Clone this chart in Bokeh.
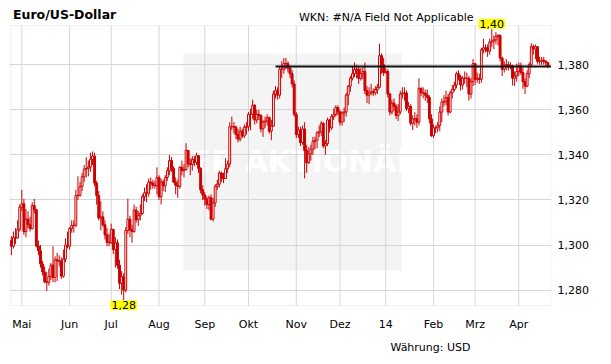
import pandas as pd
from bokeh.plotting import figure
from bokeh.models import ColumnDataSource, FixedTicker, Range1d, Label, BoxAnnotation
from bokeh.embed import file_html
from bokeh.resources import INLINE

# ---------------- data (EUR/USD daily) ----------------
start_date = "2013-04-24"
first_open = 1.3020

close = [
    1.2995, 1.3034, 1.3031, 1.3070, 1.3168,
    1.3183, 1.3060, 1.3115, 1.3090, 1.3073, 1.3175, 1.3157, 1.2996, 1.2975, 1.2916,
    1.2881, 1.2837, 1.2835, 1.2860, 1.2911, 1.2857, 1.2935, 1.2930, 1.2929, 1.2862,
    1.2938, 1.3000, 1.2995,
    1.3073, 1.3087, 1.3088, 1.3220, 1.3220, 1.3260, 1.3303, 1.3337, 1.3340, 1.3346,
    1.3380, 1.3395, 1.3275, 1.3220, 1.3120, 1.3125, 1.3090, 1.3045, 1.3012, 1.3010,
    1.3070, 1.2980, 1.3010, 1.2911, 1.2830, 1.2860, 1.2800, 1.3065, 1.3115, 1.3068,
    1.3060, 1.3155, 1.3112, 1.3132, 1.3140, 1.3215, 1.3232, 1.3230, 1.3280, 1.3275,
    1.3265, 1.3263, 1.3300,
    1.3215, 1.3280, 1.3263, 1.3300, 1.3330, 1.3375, 1.3340, 1.3280, 1.3265, 1.3260,
    1.3345, 1.3330, 1.3335, 1.3420, 1.3360, 1.3357, 1.3380, 1.3367, 1.3396, 1.3340,
    1.3245, 1.3222,
    1.3203, 1.3180, 1.3210, 1.3115, 1.3187, 1.3260, 1.3270, 1.3320, 1.3295, 1.3295,
    1.3339, 1.3360, 1.3525, 1.3526, 1.3523, 1.3490, 1.3470, 1.3505, 1.3484, 1.3522,
    1.3525,
    1.3580, 1.3580, 1.3620, 1.3555, 1.3580, 1.3575, 1.3515, 1.3545, 1.3550, 1.3565,
    1.3505, 1.3528, 1.3670, 1.3685, 1.3665, 1.3780, 1.3780, 1.3805, 1.3805, 1.3785,
    1.3760, 1.3715, 1.3580,
    1.3490, 1.3510, 1.3455, 1.3515, 1.3420, 1.3365, 1.3405, 1.3425, 1.3460, 1.3465,
    1.3498, 1.3502, 1.3540, 1.3440, 1.3450, 1.3555, 1.3520, 1.3570, 1.3580, 1.3610,
    1.3590,
    1.3545, 1.3585, 1.3590, 1.3665, 1.3705, 1.3740, 1.3760, 1.3780, 1.3780, 1.3740,
    1.3760, 1.3770, 1.3685, 1.3665, 1.3675, 1.3680, 1.3675, 1.3690, 1.3700, 1.3840,
    1.3800, 1.3765,
    1.3770, 1.3670, 1.3590, 1.3630, 1.3615, 1.3575, 1.3590, 1.3670, 1.3675, 1.3675,
    1.3605, 1.3615, 1.3540, 1.3560, 1.3560, 1.3545, 1.3695, 1.3675, 1.3675, 1.3665,
    1.3655, 1.3560, 1.3485,
    1.3520, 1.3520, 1.3530, 1.3590, 1.3635, 1.3635, 1.3655, 1.3590, 1.3675, 1.3690,
    1.3710, 1.3760, 1.3745, 1.3710, 1.3740, 1.3740, 1.3740, 1.3670, 1.3725, 1.3805,
    1.3735, 1.3740, 1.3735, 1.3865, 1.3875, 1.3875, 1.3860, 1.3900, 1.3905, 1.3910,
    1.3925, 1.3930, 1.3830, 1.3780, 1.3795, 1.3800, 1.3790, 1.3795, 1.3740, 1.3750,
    1.3770,
    1.3795, 1.3765, 1.3725, 1.3705, 1.3760, 1.3800, 1.3880, 1.3870, 1.3880, 1.3815,
    1.3815, 1.3820, 1.3815, 1.3810, 1.3795,
]

high = [
    1.3040, 1.3060, 1.3075, 1.3110, 1.3180,
    1.3245, 1.3205, 1.3160, 1.3150, 1.3125, 1.3190, 1.3205, 1.3160, 1.3020, 1.3000,
    1.2930, 1.2905, 1.2880, 1.2895, 1.2920, 1.2995, 1.2950, 1.2965, 1.2955, 1.2945,
    1.2980, 1.3030, 1.3060,
    1.3080, 1.3110, 1.3110, 1.3245, 1.3305, 1.3280, 1.3320, 1.3355, 1.3390, 1.3375,
    1.3410, 1.3415, 1.3410, 1.3285, 1.3240, 1.3195, 1.3150, 1.3110, 1.3075, 1.3050,
    1.3095, 1.3070, 1.3035, 1.3025, 1.2935, 1.2885, 1.2875, 1.3080, 1.3206, 1.3130,
    1.3090, 1.3180, 1.3170, 1.3150, 1.3180, 1.3225, 1.3255, 1.3270, 1.3295, 1.3300,
    1.3290, 1.3285, 1.3345,
    1.3310, 1.3295, 1.3290, 1.3310, 1.3345, 1.3400, 1.3390, 1.3350, 1.3300, 1.3290,
    1.3350, 1.3375, 1.3360, 1.3452, 1.3420, 1.3385, 1.3395, 1.3395, 1.3410, 1.3400,
    1.3345, 1.3265,
    1.3235, 1.3215, 1.3220, 1.3225, 1.3210, 1.3270, 1.3290, 1.3330, 1.3325, 1.3320,
    1.3385, 1.3375, 1.3545, 1.3570, 1.3545, 1.3530, 1.3515, 1.3525, 1.3515, 1.3535,
    1.3545,
    1.3590, 1.3605, 1.3645, 1.3625, 1.3600, 1.3600, 1.3580, 1.3555, 1.3570, 1.3580,
    1.3570, 1.3555, 1.3685, 1.3705, 1.3700, 1.3795, 1.3815, 1.3830, 1.3830, 1.3815,
    1.3795, 1.3775, 1.3730,
    1.3590, 1.3525, 1.3525, 1.3530, 1.3545, 1.3445, 1.3435, 1.3445, 1.3480, 1.3480,
    1.3505, 1.3530, 1.3550, 1.3545, 1.3465, 1.3565, 1.3560, 1.3580, 1.3605, 1.3620,
    1.3620,
    1.3600, 1.3595, 1.3610, 1.3675, 1.3710, 1.3750, 1.3790, 1.3810, 1.3800, 1.3790,
    1.3785, 1.3790, 1.3810, 1.3705, 1.3700, 1.3715, 1.3695, 1.3705, 1.3715, 1.3893,
    1.3850, 1.3830,
    1.3785, 1.3780, 1.3675, 1.3645, 1.3650, 1.3625, 1.3625, 1.3685, 1.3700, 1.3700,
    1.3685, 1.3635, 1.3625, 1.3575, 1.3590, 1.3580, 1.3740, 1.3700, 1.3700, 1.3690,
    1.3690, 1.3665, 1.3580,
    1.3535, 1.3530, 1.3545, 1.3615, 1.3650, 1.3665, 1.3685, 1.3670, 1.3685, 1.3710,
    1.3725, 1.3770, 1.3775, 1.3755, 1.3750, 1.3770, 1.3765, 1.3750, 1.3740, 1.3825,
    1.3805, 1.3765, 1.3760, 1.3875, 1.3915, 1.3890, 1.3890, 1.3915, 1.3960, 1.3930,
    1.3945, 1.3935, 1.3935, 1.3835, 1.3815, 1.3825, 1.3815, 1.3810, 1.3800, 1.3770,
    1.3805,
    1.3810, 1.3810, 1.3785, 1.3740, 1.3775, 1.3810, 1.3896, 1.3890, 1.3890, 1.3880,
    1.3835, 1.3835, 1.3835, 1.3820, 1.3810,
]

low = [
    1.2955, 1.2985, 1.3005, 1.3030, 1.3060,
    1.3150, 1.3045, 1.3035, 1.3075, 1.3060, 1.3070, 1.3140, 1.2990, 1.2955, 1.2900,
    1.2865, 1.2830, 1.2796, 1.2820, 1.2845, 1.2835, 1.2835, 1.2840, 1.2905, 1.2850,
    1.2855, 1.2925, 1.2985,
    1.2980, 1.3055, 1.3055, 1.3080, 1.3200, 1.3215, 1.3240, 1.3280, 1.3300, 1.3305,
    1.3325, 1.3355, 1.3260, 1.3180, 1.3110, 1.3065, 1.3080, 1.3025, 1.2995, 1.2995,
    1.3005, 1.2960, 1.2900, 1.2895, 1.2805, 1.2780, 1.2755, 1.2790, 1.3050, 1.3035,
    1.3010, 1.3055, 1.3100, 1.3085, 1.3110, 1.3135, 1.3195, 1.3190, 1.3215, 1.3245,
    1.3250, 1.3250, 1.3225,
    1.3200, 1.3180, 1.3240, 1.3235, 1.3285, 1.3310, 1.3325, 1.3275, 1.3225, 1.3210,
    1.3250, 1.3310, 1.3300, 1.3330, 1.3345, 1.3310, 1.3330, 1.3350, 1.3355, 1.3320,
    1.3230, 1.3200,
    1.3175, 1.3160, 1.3155, 1.3110, 1.3105, 1.3170, 1.3245, 1.3255, 1.3280, 1.3275,
    1.3315, 1.3320, 1.3345, 1.3510, 1.3495, 1.3470, 1.3455, 1.3460, 1.3475, 1.3475,
    1.3490,
    1.3505, 1.3510, 1.3560, 1.3535, 1.3540, 1.3555, 1.3500, 1.3480, 1.3520, 1.3530,
    1.3495, 1.3465, 1.3525, 1.3650, 1.3645, 1.3650, 1.3740, 1.3760, 1.3780, 1.3765,
    1.3740, 1.3700, 1.3570,
    1.3475, 1.3475, 1.3440, 1.3445, 1.3296, 1.3320, 1.3360, 1.3375, 1.3400, 1.3425,
    1.3430, 1.3480, 1.3485, 1.3430, 1.3400, 1.3440, 1.3500, 1.3510, 1.3555, 1.3570,
    1.3575,
    1.3530, 1.3530, 1.3545, 1.3570, 1.3620, 1.3680, 1.3730, 1.3745, 1.3740, 1.3715,
    1.3730, 1.3735, 1.3670, 1.3630, 1.3625, 1.3665, 1.3660, 1.3665, 1.3670, 1.3695,
    1.3760, 1.3750,
    1.3760, 1.3655, 1.3575, 1.3580, 1.3595, 1.3560, 1.3550, 1.3580, 1.3650, 1.3640,
    1.3595, 1.3585, 1.3530, 1.3510, 1.3530, 1.3520, 1.3530, 1.3660, 1.3650, 1.3640,
    1.3630, 1.3540, 1.3480,
    1.3475, 1.3495, 1.3500, 1.3505, 1.3545, 1.3615, 1.3620, 1.3575, 1.3585, 1.3650,
    1.3680, 1.3695, 1.3730, 1.3685, 1.3690, 1.3715, 1.3700, 1.3641, 1.3650, 1.3705,
    1.3710, 1.3720, 1.3715, 1.3720, 1.3850, 1.3855, 1.3835, 1.3845, 1.3880, 1.3870,
    1.3890, 1.3885, 1.3815, 1.3750, 1.3765, 1.3775, 1.3775, 1.3780, 1.3708, 1.3705,
    1.3725,
    1.3750, 1.3755, 1.3693, 1.3670, 1.3700, 1.3740, 1.3790, 1.3845, 1.3825, 1.3805,
    1.3800, 1.3800, 1.3800, 1.3795, 1.3785,
]

month_labels = ["Mai", "Jun", "Jul", "Aug", "Sep", "Okt", "Nov", "Dez", "14", "Feb", "Mrz", "Apr"]
y_tick_values = [1.28, 1.30, 1.32, 1.34, 1.36, 1.38]
y_tick_labels = ["1,280", "1,300", "1,320", "1,340", "1,360", "1,380"]
value_window = (1.2732, 1.3974)   # price span shown inside the chart box

resistance_level = 1.3792
resistance_start = 127

title_text = "Euro/US-Dollar"
wkn_text = "WKN: #N/A Field Not Applicable"
currency_text = "Währung: USD"
watermark_text = "DER AKTIONÄR"

# ---------------- geometry (pixels) ----------------
W, H = 603, 356
FRAME_L, FRAME_R = 9, 551          # drawing frame (x), full height
BOX_L, BOX_R, BOX_T, BOX_B = 10.5, 550.5, 25, 305   # visible chart box
X0, DX = 10.9, 2.0795              # pixel of day 0, pixels per trading day

px2i = lambda px: (px - X0) / DX
vb, vt = value_window
vscale = (vt - vb) / (BOX_B - BOX_T)
y_lo = vb - (H - BOX_B) * vscale
y_hi = vt + BOX_T * vscale
py2v = lambda py: vt - (py - BOX_T) * vscale

# ---------------- derived structures ----------------
n = len(close)
dates = pd.bdate_range(start_date, periods=n)
idx = list(range(n))
opens = [first_open] + close[:-1]

RED = "#cc0000"
GRID = "#d6d6d6"
FONT = "DejaVu Sans"

body_top = [max(o, c) for o, c in zip(opens, close)]
body_bot = [min(o, c) for o, c in zip(opens, close)]
fills = ["white" if c >= o else RED for o, c in zip(opens, close)]

src = ColumnDataSource(dict(x=idx, open=opens, high=high, low=low, close=close,
                            top=body_top, bottom=body_bot, fill=fills))

month_ticks = [i for i in range(1, n) if dates[i].month != dates[i - 1].month]

p = figure(width=W, height=H,
           x_range=Range1d(px2i(FRAME_L), px2i(FRAME_R)), y_range=Range1d(y_lo, y_hi),
           y_axis_location="right",
           output_backend="svg", toolbar_location=None,
           min_border_left=FRAME_L, min_border_right=W - FRAME_R,
           min_border_top=0, min_border_bottom=0)

p.background_fill_color = "white"
p.border_fill_color = "white"
p.outline_line_color = None

# watermark
p.add_layout(BoxAnnotation(left=px2i(183), right=px2i(401), bottom=py2v(270), top=py2v(53),
                           fill_color="#f4f4f4", fill_alpha=1.0, line_color=None, level="image"))
p.add_layout(Label(x=px2i(292), y=py2v(161), text=watermark_text, text_align="center",
                   text_baseline="middle", text_color="white", text_font=FONT,
                   text_font_style="bold", text_font_size="30px", level="image"))

# axes
p.xaxis.ticker = FixedTicker(ticks=month_ticks)
p.xaxis.major_label_overrides = {t: lab for t, lab in zip(month_ticks, month_labels)}
p.xaxis.fixed_location = vb
p.yaxis.ticker = FixedTicker(ticks=y_tick_values)
p.yaxis.major_label_overrides = {v: lab for v, lab in zip(y_tick_values, y_tick_labels)}
p.yaxis.bounds = (vb, vt)
for ax in (p.xaxis[0], p.yaxis[0]):
    ax.axis_line_color = None
    ax.major_tick_line_color = None
    ax.minor_tick_line_color = None
    ax.major_tick_out = 0
    ax.major_tick_in = 0
    ax.major_label_text_font = FONT
    ax.major_label_text_font_size = "11px"
    ax.major_label_text_color = "black"
p.xaxis.major_label_standoff = 12
p.yaxis.major_label_standoff = 6

p.xgrid.visible = False
p.ygrid.grid_line_color = GRID

# vertical month grid lines limited to the chart box
p.segment(x0=month_ticks, y0=[vb] * len(month_ticks), x1=month_ticks, y1=[vt] * len(month_ticks),
          line_color=GRID, line_width=1, level="underlay")

# chart box border
p.add_layout(BoxAnnotation(left=px2i(BOX_L), right=px2i(BOX_R), bottom=vb, top=vt,
                           fill_color=None, line_color="#cfcfcf", line_width=1, level="underlay"))

# candles
p.segment(x0="x", y0="low", x1="x", y1="high", source=src, line_color=RED, line_width=1)
p.vbar(x="x", width=0.9, top="top", bottom="bottom", source=src,
       fill_color="fill", line_color=RED, line_width=1)

# resistance line
p.segment(x0=[resistance_start], y0=[resistance_level], x1=[px2i(BOX_R)], y1=[resistance_level],
          line_color="#111111", line_width=2)

# min / max labels
i_min = min(idx, key=lambda i: low[i])
i_max = max(idx, key=lambda i: high[i])
fmt = lambda v: f"{v:.2f}".replace(".", ",")
p.add_layout(Label(x=i_min, y=low[i_min], text=fmt(low[i_min]), text_align="center",
                   text_baseline="top", text_font=FONT, text_font_size="11px",
                   text_color="black", background_fill_color="#ffff00", padding=1))
p.add_layout(Label(x=i_max, y=high[i_max], text=fmt(high[i_max]), text_align="center",
                   text_baseline="bottom", text_font=FONT, text_font_size="11px",
                   text_color="black", background_fill_color="#ffff00", padding=1))

# texts around the chart (screen units relative to the frame: x from left, y from bottom)
sx = lambda px: px - FRAME_L
sy = lambda py: H - py
p.add_layout(Label(x=sx(12.5), y=sy(13.5), x_units="screen", y_units="screen", text=title_text,
                   text_align="left", text_baseline="middle", text_font=FONT,
                   text_font_style="bold", text_font_size="12.5px", text_color="black"))
p.add_layout(Label(x=sx(473), y=sy(16.5), x_units="screen", y_units="screen", text=wkn_text,
                   text_align="right", text_baseline="middle", text_font=FONT,
                   text_font_size="11px", text_color="black"))
p.add_layout(Label(x=sx(470), y=sy(347), x_units="screen", y_units="screen", text=currency_text,
                   text_align="right", text_baseline="middle", text_font=FONT,
                   text_font_size="11px", text_color="black"))

open("out.html", "w").write(file_html(p, INLINE))
